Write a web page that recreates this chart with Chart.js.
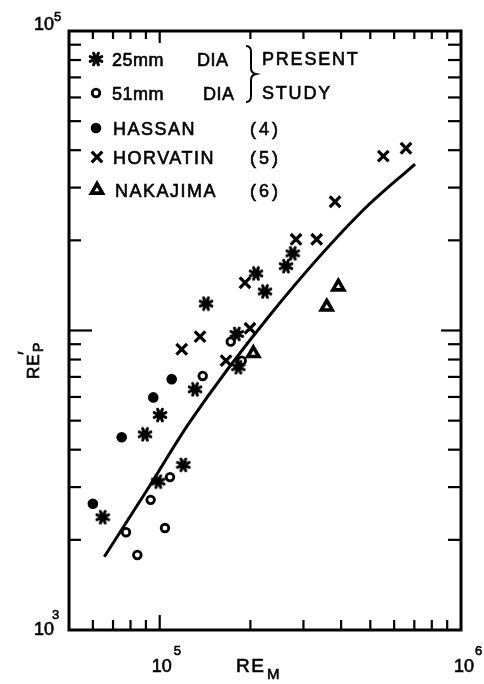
<!DOCTYPE html>
<html>
<head>
<meta charset="utf-8">
<script src="https://cdn.jsdelivr.net/npm/chart.js@4/dist/chart.umd.min.js"></script>
<style>
  html, body { margin: 0; padding: 0; background: #fff; }
  canvas { display: block; }
</style>
</head>
<body>
<canvas id="chart" width="484" height="684"></canvas>
<script>
// Particle Reynolds number RE'_P against mixture Reynolds number RE_M (log-log)

// Present study, 25 mm diameter pipe
const dia25X = [64700, 89400, 100200, 119800, 98900, 131000, 142500, 180200, 182400, 208700, 223600, 262600, 276300];
const dia25Y = [2380, 4500, 5220, 3560, 3130, 6360, 12300, 9740, 7540, 15500, 13500, 16400, 18100];

// Present study, 51 mm diameter pipe
const dia51X = [77300, 84300, 93300, 104100, 108200, 138900, 172100, 187200];
const dia51Y = [2120, 1780, 2720, 2190, 3240, 7050, 9180, 7930];

// Hassan (4)
const hassanX = [60000, 74800, 95200, 109600];
const hassanY = [2640, 4400, 5980, 6880];

// Horvatin (5)
const horvatinX = [118300, 136100, 166000, 199300, 191900, 283400, 331900, 381900, 552300, 657000];
const horvatinY = [8660, 9540, 7930, 10170, 14440, 20160, 20160, 26900, 38200, 40600];

// Nakajima (6)
const nakajimaX = [204500, 358400, 391600];
const nakajimaY = [8390, 12000, 14000];

// Correlation curve
const fitX = [65500, 90800, 126100, 232300, 462100, 703700];
const fitY = [1757, 2934, 4962, 11266, 24620, 35960];

// Axis ranges and tick positions
const xRange = [50000, 1000000];
const yRange = [1000, 100000];
const xMinorTicks = [60000, 70000, 80000, 90000, 200000, 300000, 400000, 500000, 600000, 700000, 800000, 900000];
const xMajorTicks = [100000];
const yMinorTicks = [2000, 3000, 4000, 5000, 6000, 7000, 8000, 9000, 20000, 30000, 40000, 50000, 60000, 70000, 80000, 90000];
const yMajorTicks = [10000];

const pts = (xs, ys) => xs.map((v, i) => ({ x: v, y: ys[i] }));

// Filled asterisk marker
function makeAsterisk() {
  const c = document.createElement('canvas');
  c.width = 16; c.height = 16;
  const g = c.getContext('2d');
  g.strokeStyle = '#000'; g.fillStyle = '#000';
  g.lineWidth = 3; g.lineCap = 'round';
  for (let k = 0; k < 8; k++) {
    const a = k * Math.PI / 4 + Math.PI / 8;
    g.beginPath();
    g.moveTo(8, 8);
    g.lineTo(8 + Math.cos(a) * 6.3, 8 + Math.sin(a) * 6.3);
    g.stroke();
  }
  g.beginPath(); g.arc(8, 8, 4, 0, Math.PI * 2); g.fill();
  return c;
}
const asterisk = makeAsterisk();

const styles = {
  dia25: { pointStyle: asterisk, radius: 8, borderWidth: 0, bg: '#000', border: '#000' },
  dia51: { pointStyle: 'circle', radius: 3.8, borderWidth: 2.8, bg: '#fff', border: '#000' },
  hassan: { pointStyle: 'circle', radius: 5.3, borderWidth: 0, bg: '#000', border: '#000' },
  horvatin: { pointStyle: 'crossRot', radius: 7.5, borderWidth: 3.2, bg: '#000', border: '#000' },
  nakajima: { pointStyle: 'triangle', radius: 6.3, borderWidth: 3.6, bg: '#fff', border: '#000' }
};

function scatterSet(label, xs, ys, s) {
  return {
    label, data: pts(xs, ys), showLine: false,
    pointStyle: s.pointStyle, pointRadius: s.radius, pointBorderWidth: s.borderWidth,
    pointBackgroundColor: s.bg, pointBorderColor: s.border,
    pointHoverRadius: s.radius
  };
}

const FONT = '"Liberation Sans", Arial, sans-serif';

function textAt(ctx, str, x, y, size, spacing) {
  ctx.font = size + 'px ' + FONT;
  ctx.letterSpacing = (spacing || 0) + 'px';
  ctx.fillText(str, x, y);
  ctx.lineWidth = 0.6;
  ctx.strokeText(str, x, y);
  ctx.letterSpacing = '0px';
}

function seg(ctx, x1, y1, x2, y2) {
  ctx.beginPath(); ctx.moveTo(x1, y1); ctx.lineTo(x2, y2); ctx.stroke();
}

const framePlugin = {
  id: 'frame',
  afterDatasetsDraw(chart) {
    const { ctx, chartArea: a, scales: { x, y } } = chart;
    ctx.save();
    ctx.strokeStyle = '#000';
    ctx.fillStyle = '#000';
    ctx.lineCap = 'butt';

    // frame
    ctx.lineWidth = 3;
    ctx.strokeRect(a.left, a.top, a.right - a.left, a.bottom - a.top);

    // inward tick marks on all four sides
    ctx.lineWidth = 2.2;
    xMinorTicks.forEach(v => {
      const p = x.getPixelForValue(v);
      seg(ctx, p, a.bottom, p, a.bottom - 10);
      seg(ctx, p, a.top, p, a.top + 8);
    });
    xMajorTicks.forEach(v => {
      const p = x.getPixelForValue(v);
      seg(ctx, p, a.bottom, p, a.bottom - 15);
      seg(ctx, p, a.top, p, a.top + 12);
    });
    yMinorTicks.forEach(v => {
      const p = y.getPixelForValue(v);
      seg(ctx, a.left, p, a.left + 12, p);
      seg(ctx, a.right, p, a.right - 13, p);
    });
    yMajorTicks.forEach(v => {
      const p = y.getPixelForValue(v);
      seg(ctx, a.left, p, a.left + 23, p);
      seg(ctx, a.right, p, a.right - 20, p);
    });

    // tick labels with exponents
    ctx.textBaseline = 'alphabetic';
    ctx.textAlign = 'left';
    const yTop = y.getPixelForValue(yRange[1]);
    const yBot = y.getPixelForValue(yRange[0]);
    textAt(ctx, '10', 34, yTop - 1, 18, 0);
    textAt(ctx, '5', 54, yTop - 10, 13, 0);
    textAt(ctx, '10', 34, yBot + 5, 18, 0);
    textAt(ctx, '3', 52, yBot - 11, 13, 0);
    const x5 = x.getPixelForValue(1e5);
    const x6 = x.getPixelForValue(1e6);
    textAt(ctx, '10', x5 - 8, a.bottom + 42, 18, 0);
    textAt(ctx, '5', x5 + 14, a.bottom + 25, 13, 0);
    textAt(ctx, '10', x6 - 7, a.bottom + 42, 18, 0);
    textAt(ctx, '6', x6 + 14, a.bottom + 25, 13, 0);

    // axis titles
    textAt(ctx, 'RE', 236, a.bottom + 42, 19, 1.5);
    textAt(ctx, 'M', 267, a.bottom + 49, 15, 0);

    ctx.save();
    ctx.translate(39, 379);
    ctx.rotate(-Math.PI / 2);
    textAt(ctx, 'RE', 0, 0, 17, 1);
    textAt(ctx, 'P', 27, 4, 14, 0);
    textAt(ctx, '′', 24, -7, 20, 0);
    ctx.restore();

    // key
    const key = (s, cx, cy) => {
      ctx.save();
      ctx.fillStyle = s.bg; ctx.strokeStyle = s.border;
      ctx.lineWidth = s.borderWidth;
      Chart.helpers.drawPoint(ctx, { pointStyle: s.pointStyle, radius: s.radius, rotation: 0, borderWidth: s.borderWidth }, cx, cy);
      ctx.restore();
    };
    key(styles.dia25, 96, 59);
    textAt(ctx, '25mm', 112, 66, 18, 0.5);
    textAt(ctx, 'DIA', 197, 66, 18, 0.5);
    key(styles.dia51, 96, 93);
    textAt(ctx, '51mm', 112, 100, 18, 0.5);
    textAt(ctx, 'DIA', 203, 100, 18, 0.5);

    // brace grouping the two present-study entries
    ctx.lineWidth = 2;
    ctx.beginPath();
    ctx.moveTo(246, 46);
    ctx.quadraticCurveTo(251, 46, 251, 52);
    ctx.lineTo(251, 68);
    ctx.quadraticCurveTo(251, 73, 256, 74);
    ctx.quadraticCurveTo(251, 75, 251, 80);
    ctx.lineTo(251, 96);
    ctx.quadraticCurveTo(251, 102, 246, 102);
    ctx.stroke();
    textAt(ctx, 'PRESENT', 262, 65, 18, 1.8);
    textAt(ctx, 'STUDY', 262, 99, 18, 1.8);

    key(styles.hassan, 96, 128);
    textAt(ctx, 'HASSAN', 113, 135, 18, 1.5);
    textAt(ctx, '(4)', 250, 135, 18, 3);
    key(styles.horvatin, 97, 157);
    textAt(ctx, 'HORVATIN', 113, 164, 18, 1.5);
    textAt(ctx, '(5)', 250, 164, 18, 3);
    key(styles.nakajima, 97, 190);
    textAt(ctx, 'NAKAJIMA', 115, 197, 18, 1.5);
    textAt(ctx, '(6)', 250, 197, 18, 3);

    ctx.restore();
  }
};

new Chart(document.getElementById('chart'), {
  type: 'scatter',
  data: {
    datasets: [
      scatterSet('25mm DIA', dia25X, dia25Y, styles.dia25),
      scatterSet('51mm DIA', dia51X, dia51Y, styles.dia51),
      scatterSet('HASSAN (4)', hassanX, hassanY, styles.hassan),
      scatterSet('HORVATIN (5)', horvatinX, horvatinY, styles.horvatin),
      scatterSet('NAKAJIMA (6)', nakajimaX, nakajimaY, styles.nakajima),
      {
        label: 'Correlation', type: 'line', data: pts(fitX, fitY),
        borderColor: '#000', borderWidth: 3, pointRadius: 0, fill: false,
        cubicInterpolationMode: 'monotone'
      }
    ]
  },
  options: {
    responsive: false,
    devicePixelRatio: 1,
    animation: false,
    events: [],
    layout: { padding: { left: 69, right: 23, top: 31, bottom: 54 } },
    plugins: { legend: { display: false }, tooltip: { enabled: false } },
    scales: {
      x: { type: 'logarithmic', min: xRange[0], max: xRange[1], display: false },
      y: { type: 'logarithmic', min: yRange[0], max: yRange[1], display: false }
    }
  },
  plugins: [framePlugin]
});
</script>
</body>
</html>
